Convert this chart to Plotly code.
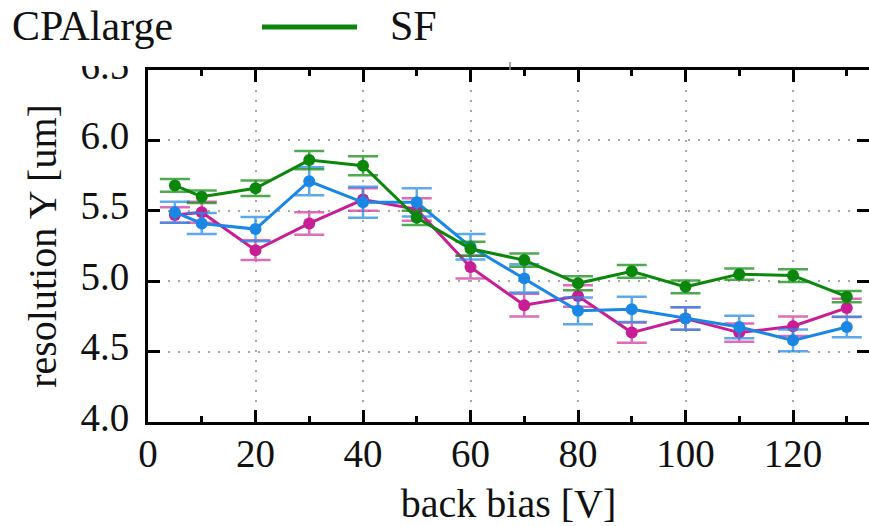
import plotly.graph_objects as go

# ---- data ----
bias = [5, 10, 20, 30, 40, 50, 60, 70, 80, 90, 100, 110, 120, 130]

sf_res = [5.68, 5.60, 5.66, 5.86, 5.82, 5.45, 5.23, 5.15, 4.985, 5.07, 4.96, 5.05, 5.04, 4.89]
sf_err = [0.045, 0.045, 0.055, 0.065, 0.067, 0.05, 0.05, 0.047, 0.05, 0.045, 0.045, 0.04, 0.045, 0.04]

blue_res = [5.49, 5.41, 5.37, 5.71, 5.56, 5.56, 5.245, 5.02, 4.79, 4.80, 4.735, 4.675, 4.58, 4.675]
blue_err = [0.075, 0.075, 0.086, 0.10, 0.11, 0.10, 0.09, 0.10, 0.095, 0.09, 0.08, 0.08, 0.077, 0.073]

mag_res = [5.47, 5.49, 5.22, 5.41, 5.58, 5.51, 5.10, 4.83, 4.895, 4.635, 4.735, 4.635, 4.68, 4.81]
mag_err = [0.055, 0.075, 0.07, 0.08, 0.08, 0.08, 0.08, 0.08, 0.077, 0.072, 0.08, 0.065, 0.07, 0.065]

x_ticks = [0, 20, 40, 60, 80, 100, 120]
y_ticks = [4.0, 4.5, 5.0, 5.5, 6.0, 6.5]
y_tick_text = ["4.0", "4.5", "5.0", "5.5", "6.0", "6.5"]

GREEN = "#0b870b"
BLUE = "#1b87e4"
MAG = "#c81e95"
FONT = "Liberation Serif"

W, H = 869, 526
L, R, T, B = 148, 0, 70, 104
PW, PH = W - L - R, H - T - B
XMAX = PW / 5.375


def px(xp):
    return (xp - L) / PW


def py(yp):
    return (H - B - yp) / PH


def series(name, y, err, color, ecolor):
    return go.Scatter(
        x=bias, y=y, name=name, mode="lines+markers",
        line=dict(color=color, width=3),
        marker=dict(color=color, size=12),
        error_y=dict(type="data", array=err, visible=True,
                     color=ecolor, thickness=2.5, width=15),
        showlegend=False,
    )


fig = go.Figure()
fig.add_trace(series("magenta", mag_res, mag_err, MAG, "rgba(210,60,160,0.75)"))
fig.add_trace(series("blue", blue_res, blue_err, BLUE, "rgba(40,140,230,0.75)"))
fig.add_trace(series("SF", sf_res, sf_err, GREEN, "rgba(20,140,20,0.75)"))

grid = dict(showgrid=True, gridcolor="#a8a8a8", gridwidth=2, griddash="2px,8px")

fig.update_xaxes(
    range=[0, XMAX], tickvals=x_ticks, ticks="inside", ticklen=12, tickwidth=3,
    tickcolor="black", showline=True, linewidth=3, linecolor="black", mirror="allticks",
    minor=dict(dtick=10, tick0=0, ticks="inside", ticklen=6, tickwidth=3,
               tickcolor="black", showgrid=False),
    tickfont=dict(family=FONT, size=39, color="#111"), ticklabelstandoff=-5,
    title=dict(text="back bias [V]", font=dict(family=FONT, size=40, color="#111"),
               standoff=24),
    zeroline=False, **grid,
)
fig.update_yaxes(
    range=[4.0, 6.5], tickvals=y_ticks, ticktext=y_tick_text, ticks="inside",
    ticklen=12, tickwidth=3, tickcolor="black", showline=True, linewidth=3,
    linecolor="black", mirror="allticks", ticklabelshift=-5, ticklabelstandoff=8,
    tickfont=dict(family=FONT, size=39, color="#111"),
    title=dict(text="resolution Y [um]", font=dict(family=FONT, size=40, color="#111"),
               standoff=12),
    zeroline=False, **grid,
)

shapes = [
    # white legend box overlapping the top of the plot (clips top of "6.5")
    dict(type="rect", xref="paper", yref="paper", x0=px(0), x1=px(140),
         y0=py(66), y1=py(0), fillcolor="white", line=dict(width=0), layer="above"),
    # legend line sample for SF
    dict(type="line", xref="paper", yref="paper", x0=px(262), x1=px(357),
         y0=py(27), y1=py(27), line=dict(color=GREEN, width=5), layer="above"),
    # small stray mark at the top edge
    dict(type="line", xref="paper", yref="paper", x0=px(510), x1=px(510),
         y0=py(62), y1=py(70), line=dict(color="#888", width=1.5), layer="above"),
]

annotations = [
    dict(text="CPAlarge", xref="paper", yref="paper", x=px(10), y=py(26),
         xanchor="left", yanchor="middle", showarrow=False,
         font=dict(family=FONT, size=42, color="#111")),
    dict(text="SF", xref="paper", yref="paper", x=px(388), y=py(26),
         xanchor="left", yanchor="middle", showarrow=False,
         font=dict(family=FONT, size=42, color="#111")),
]

fig.update_layout(
    width=W, height=H, margin=dict(l=L, r=R, t=T, b=B, autoexpand=False),
    paper_bgcolor="white", plot_bgcolor="white",
    shapes=shapes, annotations=annotations, showlegend=False,
)

fig.write_html("out.html")
